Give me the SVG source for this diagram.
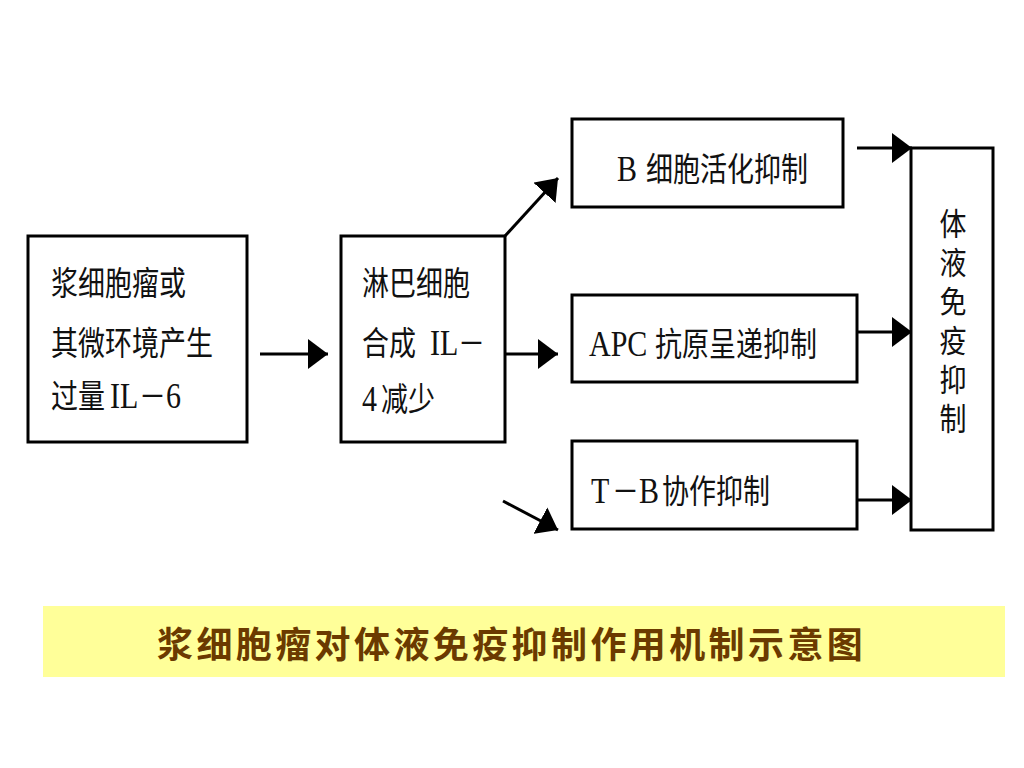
<svg xmlns="http://www.w3.org/2000/svg" width="1024" height="768" viewBox="0 0 1024 768">
<style>
.box{fill:#fff;stroke:#000;stroke-width:3}
.ln{stroke:#000;stroke-width:3;fill:none}
.t{font-family:"Liberation Serif","Noto Sans CJK SC",serif;font-size:27px;fill:#111}
.l{font-size:30px}
.v{font-family:"Noto Sans CJK SC",sans-serif;font-size:27px;fill:#111;writing-mode:vertical-rl;letter-spacing:6.9px}
.title{font-family:"Noto Sans CJK SC",sans-serif;font-size:36px;font-weight:bold;fill:#6B3A00;letter-spacing:3.4px}
</style>
<defs>
<marker id="ah" markerWidth="20" markerHeight="30" refX="20" refY="15" orient="auto" markerUnits="userSpaceOnUse">
<path d="M0,0 L20,15 L0,30 Z" fill="#000"/>
</marker>
</defs>
<rect width="1024" height="768" fill="#fff"/>

<g id="connectors">
<line class="ln" x1="260" y1="354" x2="328" y2="354" marker-end="url(#ah)"/>
<line class="ln" x1="505" y1="354" x2="558" y2="354" marker-end="url(#ah)"/>
<line class="ln" x1="505" y1="236" x2="558" y2="178" marker-end="url(#ah)"/>
<line class="ln" x1="503" y1="501" x2="558" y2="530" marker-end="url(#ah)"/>
<line class="ln" x1="857" y1="148" x2="912" y2="148" marker-end="url(#ah)"/>
<line class="ln" x1="857" y1="332" x2="912" y2="332" marker-end="url(#ah)"/>
<line class="ln" x1="857" y1="500" x2="912" y2="500" marker-end="url(#ah)"/>
</g>

<g id="node-source">
<rect class="box" x="28" y="236" width="219" height="206"/>
<text class="t" transform="translate(0,295) scale(1,1.22)"><tspan x="51">浆细胞瘤或</tspan></text>
<text class="t" transform="translate(0,355) scale(1,1.22)"><tspan x="51">其微环境产生</tspan></text>
<text class="t" transform="translate(0,408) scale(1,1.22)"><tspan x="51">过量</tspan><tspan class="l" x="110">IL</tspan><tspan x="139">－</tspan><tspan class="l" x="166">6</tspan></text>
</g>

<g id="node-lymph">
<rect class="box" x="341" y="236" width="164" height="206"/>
<text class="t" transform="translate(0,295) scale(1,1.22)"><tspan x="362">淋巴细胞</tspan></text>
<text class="t" transform="translate(0,355) scale(1,1.22)"><tspan x="362">合成</tspan><tspan class="l" x="430">IL</tspan><tspan x="458">－</tspan></text>
<text class="t" transform="translate(0,411) scale(1,1.22)"><tspan class="l" x="362">4</tspan><tspan x="381">减少</tspan></text>
</g>

<g id="node-b">
<rect class="box" x="572" y="119" width="271" height="88"/>
<text class="t" transform="translate(0,181) scale(1,1.2)"><tspan class="l" x="617">B</tspan><tspan x="646">细胞活化抑制</tspan></text>
</g>

<g id="node-apc">
<rect class="box" x="572" y="295" width="285" height="87"/>
<text class="t" transform="translate(0,356) scale(1,1.2)"><tspan class="l" x="589">APC</tspan><tspan x="655">抗原呈递抑制</tspan></text>
</g>

<g id="node-tb">
<rect class="box" x="572" y="441" width="285" height="88"/>
<text class="t" transform="translate(0,503) scale(1,1.2)"><tspan class="l" x="591">T</tspan><tspan x="612">－</tspan><tspan class="l" x="639">B</tspan><tspan x="662">协作抑制</tspan></text>
</g>

<g id="node-humoral">
<rect class="box" x="911" y="148" width="82" height="382"/>
<text class="v" transform="translate(953,0) scale(1,1.15)" x="0" y="181">体液免疫抑制</text>
</g>

<g id="caption">
<rect x="43" y="606" width="962" height="71" fill="#FFFF99"/>
<text class="title" x="157" y="658">浆细胞瘤对体液免疫抑制作用机制示意图</text>
</g>
</svg>
